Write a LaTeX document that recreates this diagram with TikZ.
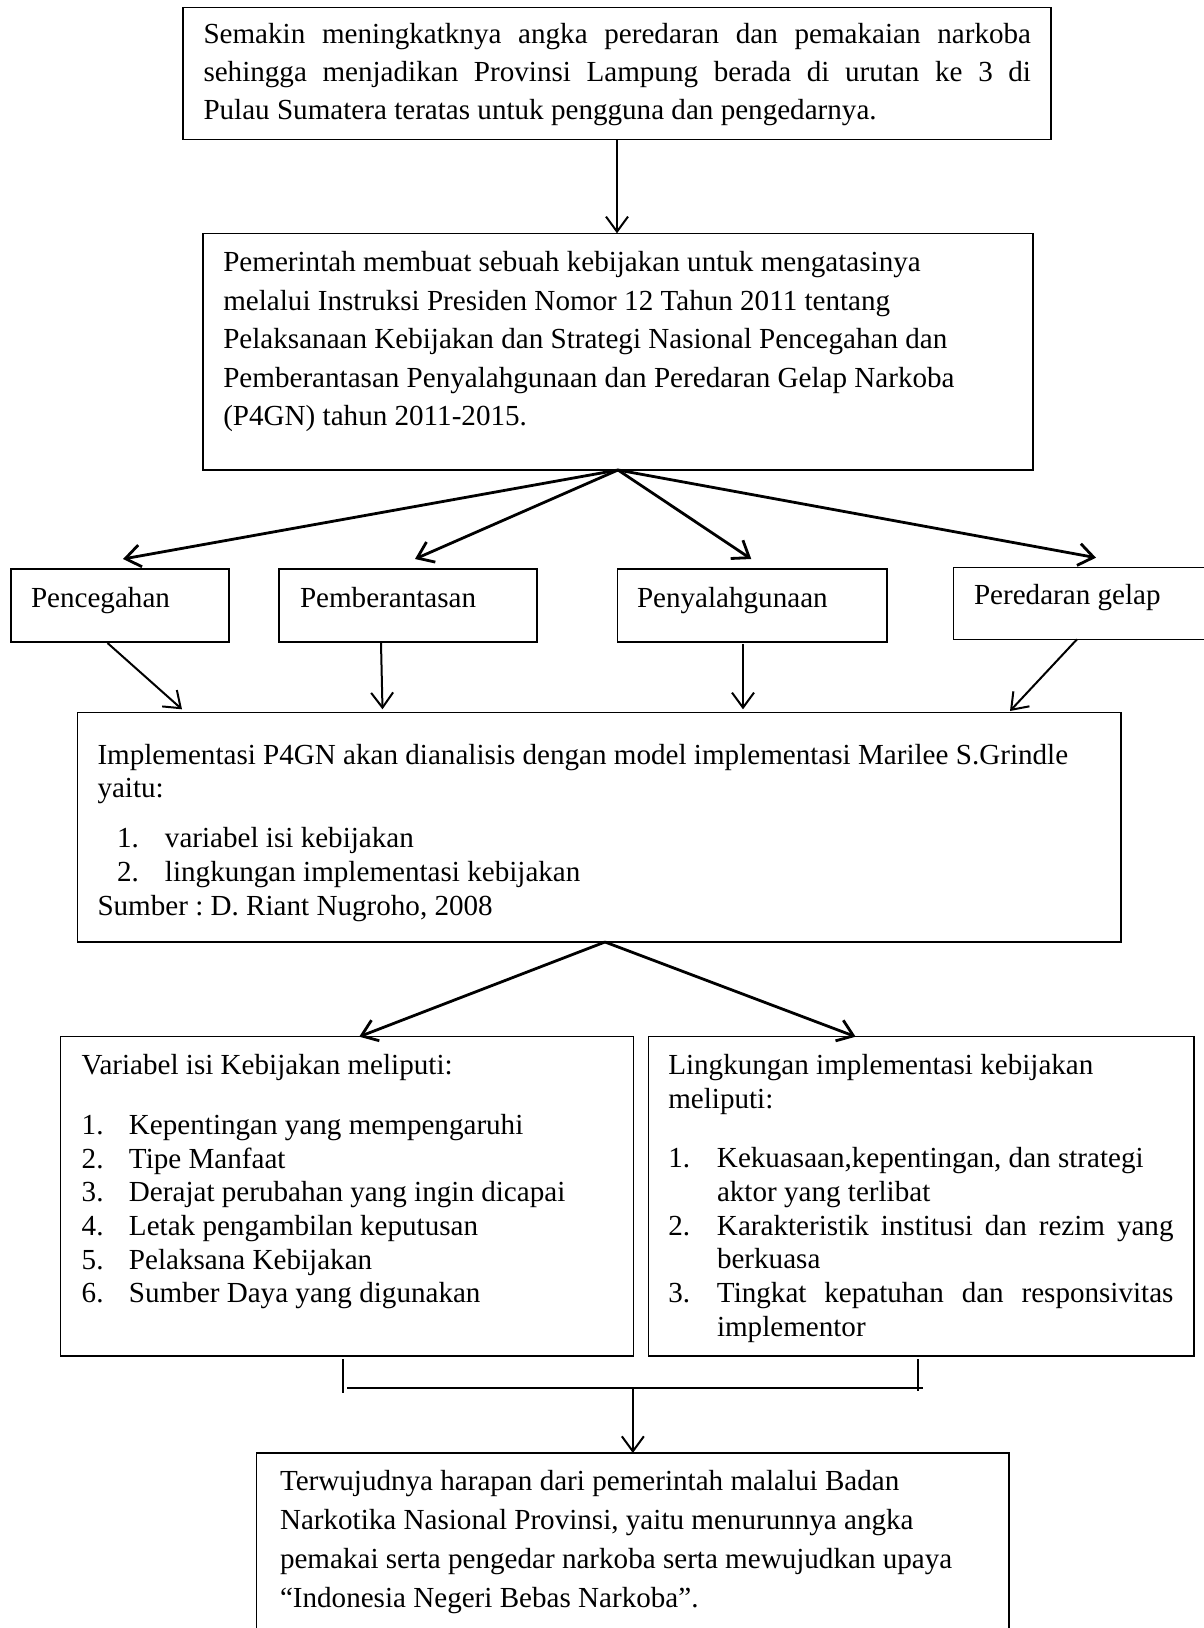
\documentclass[tikz,border=0pt]{standalone}
\usepackage{fontspec}
\setmainfont{Liberation Serif}
\usetikzlibrary{arrows.meta}
\frenchspacing
\newcommand{\jl}[1]{\makebox[\linewidth][s]{#1}}
\newcommand{\fs}[1]{\fontsize{29.1pt}{#1}\selectfont}
\begin{document}
\begin{tikzpicture}[x=1pt,y=-1pt,
  box/.style={draw=black, line width=1.4pt, anchor=north west, inner sep=0pt, outer sep=0pt},
  txt/.style={anchor=base west, inner sep=0pt, outer sep=0pt},
  arr/.style={line width=2pt, -{Straight Barb[length=15pt,width=22pt]}},
  fan/.style={line width=2.8pt, -{Straight Barb[length=15pt,width=22pt]}},
  conn/.style={line width=2pt}]
\fill[white] (0,0) rectangle (1204,1628);
\useasboundingbox (0,0) rectangle (1204,1628);

% boxes
\node[box, minimum width=868pt, minimum height=132pt] (b1) at (183,7.3) {};
\node[box, minimum width=830pt, minimum height=236.7pt] (b2) at (203,233.3) {};
\node[box, minimum width=218pt, minimum height=73pt] (p1) at (11,569) {};
\node[box, minimum width=258pt, minimum height=73pt] (p2) at (279,569) {};
\node[box, minimum width=269.5pt, minimum height=73pt] (p3) at (617.5,569) {};
\node[box, minimum width=270pt, minimum height=71.6pt] (p4) at (953.3,567.7) {};
\node[box, minimum width=1043.4pt, minimum height=229.7pt] (impl) at (77.6,712.3) {};
\node[box, minimum width=573pt, minimum height=319.3pt] (lb) at (60.7,1036.7) {};
\node[box, minimum width=545.7pt, minimum height=319.3pt] (rb) at (648.3,1036.7) {};
\node[box, minimum width=752.3pt, minimum height=200pt] (bot) at (256.7,1453) {};

% texts
\node[txt] (t1) at (203.5,43) {\parbox[t]{827.5pt}{\fs{38.2pt}%
\jl{Semakin meningkatknya angka peredaran dan pemakaian narkoba}\\
\jl{sehingga menjadikan Provinsi Lampung berada di urutan ke 3 di}\\
Pulau Sumatera teratas untuk pengguna dan pengedarnya.}};

\node[txt] (t2) at (223.3,271.7) {\parbox[t]{800pt}{\fs{38.5pt}%
Pemerintah membuat sebuah kebijakan untuk mengatasinya\\
melalui Instruksi Presiden Nomor 12 Tahun 2011 tentang\\
Pelaksanaan Kebijakan dan Strategi Nasional Pencegahan dan\\
Pemberantasan Penyalahgunaan dan Peredaran Gelap Narkoba\\
(P4GN) tahun 2011-2015.}};

\node[txt] (tp1) at (31,607) {\fs{34pt}Pencegahan};
\node[txt] (tp2) at (300,607) {\fs{34pt}Pemberantasan};
\node[txt] (tp3) at (637,607) {\fs{34pt}Penyalahgunaan};
\node[txt] (tp4) at (974,604.5) {\fs{34pt}Peredaran gelap};

\node[txt] (ti) at (97.5,764) {\parbox[t]{1010pt}{\fs{33.7pt}%
Implementasi P4GN akan dianalisis dengan model implementasi Marilee S.Grindle\\
yaitu:\\[16.3pt]
\hspace*{19.5pt}\makebox[48pt][l]{1.}variabel isi kebijakan\\
\hspace*{19.5pt}\makebox[48pt][l]{2.}lingkungan implementasi kebijakan\\
Sumber : D. Riant Nugroho, 2008}};

\node[txt] (tl) at (81.7,1074) {\parbox[t]{540pt}{\fs{33.7pt}%
Variabel isi Kebijakan meliputi:\\[26.6pt]
\makebox[47.3pt][l]{1.}Kepentingan yang mempengaruhi\\
\makebox[47.3pt][l]{2.}Tipe Manfaat\\
\makebox[47.3pt][l]{3.}Derajat perubahan yang ingin dicapai\\
\makebox[47.3pt][l]{4.}Letak pengambilan keputusan\\
\makebox[47.3pt][l]{5.}Pelaksana Kebijakan\\
\makebox[47.3pt][l]{6.}Sumber Daya yang digunakan}};

\node[txt] (tr) at (668.3,1074.3) {\parbox[t]{505.2pt}{\fs{33.7pt}%
Lingkungan implementasi kebijakan\\
meliputi:\\[26pt]
\makebox[48.7pt][l]{1.}Kekuasaan,kepentingan, dan strategi\\
\hspace*{48.7pt}aktor yang terlibat\\
\makebox[48.7pt][l]{2.}\makebox[456.5pt][s]{Karakteristik institusi dan rezim yang}\\
\hspace*{48.7pt}berkuasa\\
\makebox[48.7pt][l]{3.}\makebox[456.5pt][s]{Tingkat kepatuhan dan responsivitas}\\
\hspace*{48.7pt}implementor}};

\node[txt] (tb) at (280,1490) {\parbox[t]{720pt}{\fs{39pt}%
Terwujudnya harapan dari pemerintah malalui Badan\\
Narkotika Nasional Provinsi, yaitu menurunnya angka\\
pemakai serta pengedar narkoba serta mewujudkan upaya\\
“Indonesia Negeri Bebas Narkoba”.}};

% connectors
\draw[arr] (b1.south) -- (b1.south |- b2.north);

\draw[fan] (b2.south) -- ([shift={(3pt,10pt)}]p1.north);
\draw[fan] (b2.south) -- ([shift={(7pt,10pt)}]p2.north);
\draw[fan] (b2.south) -- ([shift={(-1pt,10pt)}]p3.north);
\draw[fan] (b2.south) -- ([shift={(7.7pt,10pt)}]p4.north);

\draw[arr] ([shift={(-12.5pt,-1pt)}]p1.south) -- ([shift={(104.4pt,3pt)}]impl.north west);
\draw[arr] ([shift={(-27pt,-1pt)}]p2.south) -- ([shift={(304.9pt,3pt)}]impl.north west);
\draw[arr] ([shift={(-9.25pt,-2pt)}]p3.south) -- ([shift={(665.4pt,3pt)}]impl.north west);
\draw[arr] ([shift={(-11.3pt,0pt)}]p4.south) -- ([shift={(-111pt,1.3pt)}]impl.north east);

\draw[fan] ([xshift=5.7pt]impl.south) -- ([xshift=12pt]lb.north);
\draw[fan] ([xshift=5.7pt]impl.south) -- ([xshift=-65.5pt]rb.north);

\draw[conn] ([shift={(-4.5pt,-3pt)}]lb.south) -- ++(0pt,-34pt);
\draw[conn] ([shift={(-2.8pt,-3pt)}]rb.south) -- ++(0pt,-32pt);
\draw[conn] ([shift={(0.1pt,-32pt)}]lb.south) coordinate (jl) -- ([shift={(1.5pt,-32pt)}]rb.south);
\draw[arr] (bot.north |- jl) -- (bot.north);
\end{tikzpicture}
\end{document}
